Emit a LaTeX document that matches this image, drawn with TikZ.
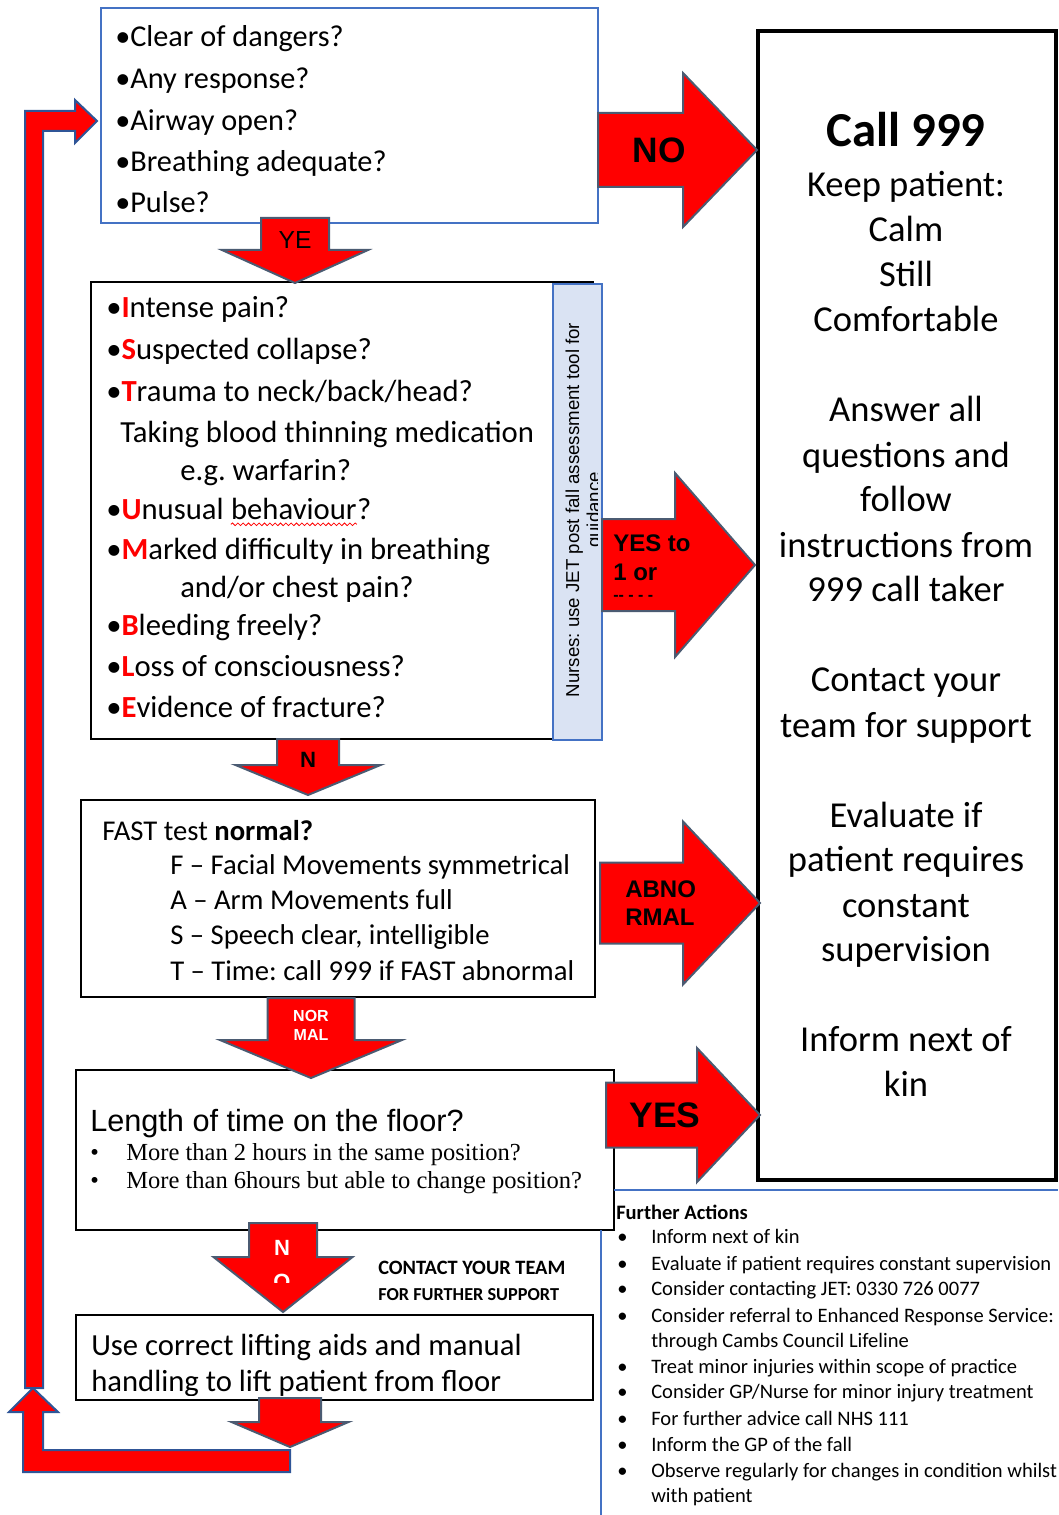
\documentclass[tikz,border=0pt]{standalone}
\usepackage{fontspec}
\setmainfont{Carlito}
\newfontfamily\arialfont{Liberation Sans}
\newfontfamily\timesfont{Liberation Serif}
\usetikzlibrary{decorations.pathmorphing}
\frenchspacing

\definecolor{boxblue}{HTML}{4472C4}
\definecolor{loopblue}{HTML}{2F5597}
\definecolor{slate}{HTML}{4B5B72}
\definecolor{paleblue}{HTML}{DAE3F3}
\definecolor{alarm}{HTML}{FF0000}

% block arrow to the right: x start, x neck, x tip, y centre, half shaft, half head
\newcommand{\blockright}[6]{%
  \draw[blockarrow] (#1,{#4-#5}) -- (#2,{#4-#5}) -- (#2,{#4-#6}) -- (#3,#4)
    -- (#2,{#4+#6}) -- (#2,{#4+#5}) -- (#1,{#4+#5}) -- cycle;}
% block arrow downwards: x centre, y start, y neck, y tip, half shaft, half head
\newcommand{\blockdown}[6]{%
  \draw[blockarrow] ({#1-#5},#2) -- ({#1+#5},#2) -- ({#1+#5},#3) -- ({#1+#6},#3)
    -- (#1,#4) -- ({#1-#6},#3) -- ({#1-#5},#3) -- cycle;}

\begin{document}
\begin{tikzpicture}[x=0.75pt,y=-0.75pt,
    fs/.style={execute at begin node={\fontsize{#1}{#1}\selectfont}},
    txt/.style={inner sep=0pt,anchor=base west},
    ctr/.style={inner sep=0pt,anchor=base},
    lbl/.style={inner sep=0pt,font=\arialfont\bfseries},
    blockarrow/.style={fill=alarm,draw=slate,line width=1.5pt,line join=miter},
    looparrow/.style={fill=alarm,draw=loopblue,line width=1.5pt,line join=miter},
    frame/.style={draw=black,line width=1.2pt}]
  \useasboundingbox (0,0) rectangle (1058,1515);

  % first checks
  \draw[boxblue,line width=1.1pt] (101,8) rectangle (598,223);
  \foreach \y/\t [count=\i] in {47/Clear of dangers?, 89/Any response?, 131/Airway open?,
      172/Breathing adequate?, 213/Pulse?}
    \node[txt,fs=22.7] (check\i) at (115,\y) {•\t};

  % call 999 box
  \draw[line width=2.3pt] (758,31) rectangle (1056,1180);
  \node[ctr,font=\bfseries,fs=36.6] (call) at (906,147) {Call 999};
  \foreach \y/\t [count=\i] in {197/Keep patient:, 242/Calm, 287/Still, 332/Comfortable,
      421/Answer all, 467/questions and, 511/follow, 557/instructions from, 601/999 call taker,
      691/Contact your, 737/team for support,
      827/Evaluate if, 871/patient requires, 917/constant, 961/supervision,
      1051/Inform next of, 1096/kin}
    \node[ctr,fs=27.4] (keep\i) at (906,\y) {\t};

  % ISTUMBLE questions
  \draw[frame] (91,282) rectangle (593,739);
  \foreach \y/\a/\t [count=\i] in {318/I/ntense pain?, 360/S/uspected collapse?,
      402/T/{rauma to neck/back/head?}, 559/M/arked difficulty in breathing,
      635/B/leeding freely?, 676/L/oss of consciousness?, 717/E/vidence of fracture?}
    \node[txt,fs=23] (stumble\i) at (106,\y) {•{\color{alarm}\bfseries\a}\t};
  \node[txt,fs=23] (blood) at (120,442) {Taking blood thinning medication};
  \node[txt,fs=23] (warf) at (180,480) {e.g. warfarin?};
  \node[txt,fs=23] (unus) at (106,519) {•{\color{alarm}\bfseries U}nusual};
  \node[txt,fs=23] (behav) at ([xshift=5.2pt]unus.base east) {behaviour};
  \node[txt,fs=23] (behq) at (behav.base east) {?};
  \draw[alarm,line width=0.6pt,decorate,decoration={snake,amplitude=1pt,segment length=4pt}]
    ([yshift=-4pt]behav.base west) -- ([yshift=-4pt]behav.base east);
  \node[txt,fs=23] (chest) at (180,597) {and/or chest pain?};

  % nurses note
  \draw[boxblue,fill=paleblue,line width=1.1pt] (553,284) rectangle (602,740);
  \begin{scope}
    \clip (553,284) rectangle (597,740);
    \node[ctr,font=\arialfont,fs=14,rotate=90] (nurse) at (579,510)
      {Nurses: use JET post fall assessment tool for};
    \node[ctr,font=\arialfont,fs=14,rotate=90] (guid) at (600,510) {guidance};
  \end{scope}

  % FAST test
  \draw[frame] (81,800) rectangle (595,997);
  \node[txt,fs=21.5] (fast) at (102,840) {FAST test \textbf{normal?}};
  \foreach \y/\t [count=\i] in {874/F – Facial Movements symmetrical, 909/A – Arm Movements full,
      944/{S – Speech clear, intelligible}, 980/T – Time: call 999 if FAST abnormal}
    \node[txt,fs=21.5] (face\i) at (170,\y) {\t};

  % time on the floor
  \draw[line width=1pt] (76,1070) rectangle (614,1230);
  \node[txt,font=\arialfont,fs=23] (floor) at (90,1131) {Length of time on the floor?};
  \foreach \y/\t [count=\i] in {1160/More than 2 hours in the same position?,
      1188/More than 6hours but able to change position?} {
    \node[txt,font=\timesfont,fs=18.4] (dot\i) at (90,\y) {•};
    \node[txt,font=\timesfont,fs=18.4] (hours\i) at (126,\y) {\t};
  }

  % lifting
  \draw[frame] (76,1315) rectangle (593,1400);
  \begin{scope}
    \clip (76,1315) rectangle (593,1395);
    \node[txt,fs=23] (lift1) at (91,1355) {Use correct lifting aids and manual};
    \node[txt,fs=23] (lift2) at (91,1391) {handling to lift patient from floor};
  \end{scope}
  \node[txt,font=\bfseries,fs=15.3] (team1) at (378,1274) {CONTACT YOUR TEAM};
  \node[txt,font=\bfseries,fs=13.7] (team2) at (378,1300) {FOR FURTHER SUPPORT};

  % further actions
  \draw[boxblue,line width=1pt] (614,1190) -- (1058,1190);
  \draw[boxblue,line width=1pt] (601,1230) -- (601,1515);
  \node[txt,font=\bfseries,fs=15.4] (further) at (616,1219) {Further Actions};
  \foreach \y/\t [count=\i] in {1243/Inform next of kin,
      1270/Evaluate if patient requires constant supervision,
      1295/Consider contacting JET: 0330 726 0077,
      1322/Consider referral to Enhanced Response Service:,
      1373/Treat minor injuries within scope of practice,
      1398/{Consider GP/Nurse for minor injury treatment},
      1425/For further advice call NHS 111,
      1451/Inform the GP of the fall,
      1477/Observe regularly for changes in condition whilst} {
    \node[txt,fs=15.4] (act\i) at (651,\y) {\t};
    \node[txt,fs=15.4] (bul\i) at (617,\y) {•};
  }
  \node[txt,fs=15.4] (lifeline) at (651,1347) {through Cambs Council Lifeline};
  \node[txt,fs=15.4] (withpt) at (651,1502) {with patient};

  % block arrows
  \blockright{598}{683}{757}{150}{37}{77}
  \node[lbl,fs=26.5] (no) at (659,150) {NO};
  \blockright{602}{675}{755}{565}{46}{92}
  \node[txt,lbl,fs=18] (yes1a) at (613,551) {YES to};
  \node[txt,lbl,fs=18] (yes1b) at (613,580) {1 or};
  \node[txt,lbl,fs=12] (yes1c) at (613,600) {-- - - -};
  \blockright{600}{683}{760}{903}{40.5}{81.5}
  \node[txt,lbl,fs=18] (abno) at (625,897) {ABNO};
  \node[txt,lbl,fs=18] (rmal) at (625,925) {RMAL};
  \blockright{606}{697}{760}{1115}{32.5}{67}
  \node[lbl,fs=26.6] (yes) at (665,1115) {YES};

  \blockdown{295}{218}{250}{283}{34}{73}
  \node[inner sep=0pt,font=\arialfont,fs=18.5] (ye) at (295,240) {YE};
  \blockdown{308}{739}{765}{795}{31}{72.5}
  \node[lbl,fs=16.6] (n) at (308,760) {N};
  \blockdown{311}{998}{1040}{1078}{43.5}{91}
  \node[lbl,fs=12,text=white] (nor) at (311,1016) {NOR};
  \node[lbl,fs=12,text=white] (mal) at (311,1035) {MAL};
  \blockdown{283}{1223}{1257}{1312}{34}{69.5}
  \node[lbl,fs=16.5,text=white] (notime) at (282,1248) {N};
  \begin{scope}
    \clip (250,1260) rectangle (318,1282);
    \node[lbl,fs=16.5,text=white] (notime2) at (282,1282) {O};
  \end{scope}
  \blockdown{290}{1398}{1422}{1447}{31}{58.5}

  % back to the start
  \draw[looparrow] (290,1450) -- (290,1472) -- (23,1472) -- (23,1412) -- (9,1412)
    -- (33,1388) -- (58,1412) -- (43,1412) -- (43,1450) -- cycle;
  \draw[looparrow] (25,1388) -- (25,111) -- (75,111) -- (75,100) -- (97,121)
    -- (75,143) -- (75,131) -- (43,131) -- (43,1388) -- cycle;
\end{tikzpicture}
\end{document}
